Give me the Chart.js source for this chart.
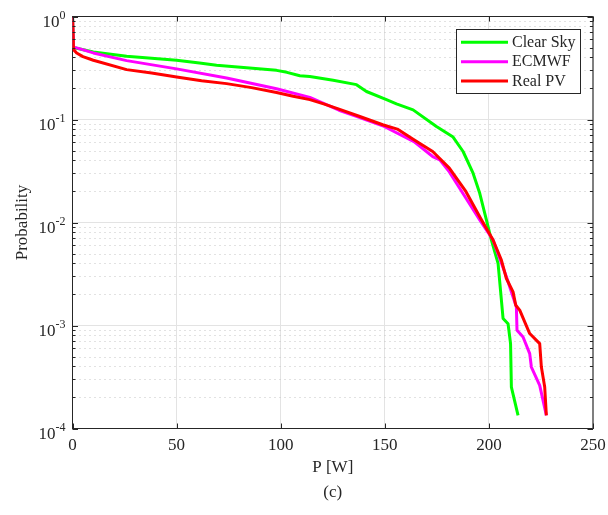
<!DOCTYPE html>
<html><head><meta charset="utf-8">
<script src="https://cdn.jsdelivr.net/npm/chart.js@4/dist/chart.umd.min.js"></script>
<style>html,body{margin:0;padding:0;background:#fff;}canvas{display:block;}</style>
</head><body>
<canvas id="c" width="608" height="515"></canvas>
<script>
const seriesNames = ['Clear Sky', 'ECMWF', 'Real PV'];
const seriesColors = ['#00ff00', '#ff00ff', '#ff0000'];
const xTicks = [0, 50, 100, 150, 200, 250];
const yDecades = [1e-4, 1e-3, 1e-2, 1e-1, 1];
const yTickBase = '10';
const yTickExp = ['-4', '-3', '-2', '-1', '0'];
const xTitle = 'P [W]';
const yTitle = 'Probability';
const caption = '(c)';

const clearSkyP = [0, 0.5, 2, 10, 26, 50, 61, 69.2, 98, 103, 109.2, 114, 125.2, 136.4, 141.2, 150.8, 155.6, 163.6, 174.8, 182.8, 187.6, 192.4, 195.6, 198.8, 201.2, 204.4, 206.8, 209.2, 210.4, 210.8, 214];
const clearSkyProb = [1, 0.50, 0.491, 0.453, 0.411, 0.376, 0.354, 0.336, 0.300, 0.287, 0.266, 0.262, 0.240, 0.218, 0.187, 0.156, 0.142, 0.124, 0.0856, 0.0675, 0.0489, 0.0301, 0.0192, 0.0106, 0.00676, 0.00401, 0.00117, 0.00104, 0.000667, 0.000252, 0.000134];

const ecmwfP = [0, 0.5, 2, 10, 26, 50, 74, 98, 114, 128, 136, 149, 164, 173, 176.4, 181, 189, 195.6, 202, 208.4, 213.2, 213.5, 216.4, 219.6, 220.4, 224.4, 227.6];
const ecmwfProb = [1, 0.50, 0.496, 0.443, 0.373, 0.310, 0.253, 0.199, 0.164, 0.123, 0.108, 0.0869, 0.061, 0.0437, 0.0406, 0.031, 0.0172, 0.0106, 0.00676, 0.00297, 0.00151, 0.000899, 0.000774, 0.000533, 0.000395, 0.000262, 0.000134];

const realPvP = [0, 0.5, 2, 5, 10, 26, 38, 50, 62, 74, 86, 98, 106, 114, 121, 128, 138, 149, 156, 164, 173, 181, 189, 196, 202, 206, 208.4, 211.6, 212.9, 214.8, 219.6, 224.4, 225.2, 226.8, 227.6];
const realPvProb = [1, 0.477, 0.443, 0.408, 0.376, 0.305, 0.283, 0.259, 0.238, 0.223, 0.204, 0.183, 0.168, 0.156, 0.141, 0.126, 0.107, 0.0889, 0.0807, 0.0635, 0.0489, 0.0337, 0.0199, 0.011, 0.00676, 0.00432, 0.00286, 0.00212, 0.00157, 0.00141, 0.000835, 0.000667, 0.000395, 0.000253, 0.000134];

const FONT = '"Liberation Serif", "Times New Roman", Times, serif';
const TXT = '#262626';

function pts(xs, ys) { return xs.map((x, i) => ({ x: x, y: ys[i] })); }
function isDecade(v) { const l = Math.log10(v); return Math.abs(l - Math.round(l)) < 1e-9; }

const decor = {
  id: 'decor',
  beforeDatasetsDraw(chart) {
    const { ctx, chartArea: a, scales: { y } } = chart;
    ctx.save();
    ctx.strokeStyle = '#c4c4c4';
    ctx.lineWidth = 1;
    ctx.setLineDash([1, 4]);
    for (let e = -4; e < 0; e++) {
      for (let k = 2; k <= 9; k++) {
        const py = Math.round(y.getPixelForValue(k * Math.pow(10, e))) + 0.5;
        ctx.beginPath(); ctx.moveTo(a.left + 2, py); ctx.lineTo(a.right, py); ctx.stroke();
      }
    }
    ctx.restore();
  },
  afterDraw(chart) {
    const { ctx, chartArea: a, scales: { x, y } } = chart;
    ctx.save();
    ctx.strokeStyle = TXT; ctx.lineWidth = 1;
    ctx.beginPath(); ctx.moveTo(a.left, a.top); ctx.lineTo(a.right, a.top); ctx.stroke();
    ctx.strokeStyle = '#555'; ctx.lineWidth = 1.5;
    ctx.beginPath(); ctx.moveTo(a.right, a.top); ctx.lineTo(a.right, a.bottom); ctx.stroke();
    ctx.strokeStyle = TXT; ctx.lineWidth = 1;
    xTicks.forEach(v => {
      const px = Math.round(x.getPixelForValue(v)) + 0.5;
      ctx.beginPath(); ctx.moveTo(px, a.bottom); ctx.lineTo(px, a.bottom - 5); ctx.stroke();
      ctx.beginPath(); ctx.moveTo(px, a.top); ctx.lineTo(px, a.top + 5); ctx.stroke();
    });
    for (let e = -4; e <= 0; e++) {
      for (let k = 1; k <= 9; k++) {
        if (e === 0 && k > 1) break;
        const py = Math.round(y.getPixelForValue(k * Math.pow(10, e))) + 0.5;
        const len = k === 1 ? 5.5 : 3;
        ctx.beginPath(); ctx.moveTo(a.left, py); ctx.lineTo(a.left + len, py); ctx.stroke();
        ctx.beginPath(); ctx.moveTo(a.right, py); ctx.lineTo(a.right - len, py); ctx.stroke();
      }
    }
    ctx.fillStyle = TXT; ctx.textAlign = 'left'; ctx.textBaseline = 'alphabetic';
    const rightX = 65.5;
    yDecades.forEach((v, i) => {
      const ty = y.getPixelForValue(v);
      ctx.font = '12px ' + FONT;
      const ew = ctx.measureText(yTickExp[i]).width;
      ctx.fillText(yTickExp[i], rightX - ew, ty + 2);
      ctx.font = '17px ' + FONT;
      const bw = ctx.measureText(yTickBase).width;
      ctx.fillText(yTickBase, rightX - ew - bw, ty + 10.5);
    });
    ctx.font = '17px ' + FONT;
    ctx.textAlign = 'center'; ctx.textBaseline = 'middle';
    const cx = (a.left + a.right) / 2;
    ctx.fillText(xTitle, cx, 468);
    ctx.fillText(caption, cx, 493);
    ctx.save();
    ctx.translate(26.5, (a.top + a.bottom) / 2);
    ctx.rotate(-Math.PI / 2);
    ctx.textBaseline = 'alphabetic';
    ctx.fillText(yTitle, 0, 0);
    ctx.restore();
    const bx = 456.5, by = 29.5, bw2 = 124, bh = 64;
    ctx.fillStyle = '#fff';
    ctx.fillRect(bx, by, bw2, bh);
    ctx.strokeStyle = TXT; ctx.lineWidth = 1;
    ctx.strokeRect(bx, by, bw2, bh);
    const rows = [42.3, 61.7, 81];
    ctx.font = '16px ' + FONT; ctx.textAlign = 'left'; ctx.textBaseline = 'middle';
    seriesNames.forEach((n, i) => {
      ctx.strokeStyle = seriesColors[i]; ctx.lineWidth = 3;
      ctx.beginPath(); ctx.moveTo(461, rows[i]); ctx.lineTo(508, rows[i]); ctx.stroke();
      ctx.fillStyle = TXT;
      ctx.fillText(n, 512, rows[i] + 0.5);
    });
    ctx.restore();
  }
};

const seriesP = [clearSkyP, ecmwfP, realPvP];
const seriesProb = [clearSkyProb, ecmwfProb, realPvProb];

new Chart(document.getElementById('c'), {
  type: 'line',
  data: {
    datasets: seriesNames.map((n, i) => ({
      label: n,
      data: pts(seriesP[i], seriesProb[i]),
      borderColor: seriesColors[i],
      backgroundColor: seriesColors[i],
      borderWidth: 3,
      pointRadius: 0,
      fill: false,
      tension: 0,
      borderJoinStyle: 'round',
      order: 3 - i
    }))
  },
  options: {
    responsive: false,
    animation: false,
    devicePixelRatio: 1,
    layout: { padding: { top: 16.5, right: 15, left: 0, bottom: 0 } },
    plugins: { legend: { display: false }, tooltip: { enabled: false }, title: { display: false } },
    scales: {
      x: {
        type: 'linear', min: 0, max: 250,
        afterBuildTicks(s) { s.ticks = xTicks.map(v => ({ value: v })); },
        ticks: { font: { family: FONT, size: 17 }, color: TXT, padding: 7, maxRotation: 0, autoSkip: false },
        grid: {
          color: c => (c.tick && (c.tick.value === 0 || c.tick.value === 250)) ? 'rgba(0,0,0,0)' : '#e3e3e3',
          drawTicks: false, lineWidth: 1
        },
        border: { color: TXT, width: 1 },
        afterFit(s) { s.height = 515 - 428.5; s.paddingLeft = 0; s.paddingRight = 0; }
      },
      y: {
        type: 'logarithmic', min: 1e-4, max: 1,
        ticks: { display: false, autoSkip: false },
        grid: {
          color: c => (c.tick && isDecade(c.tick.value) && c.tick.value < 1 && c.tick.value > 1e-4) ? '#e3e3e3' : 'rgba(0,0,0,0)',
          drawTicks: false, lineWidth: 1
        },
        border: { color: TXT, width: 1 },
        afterFit(s) { s.width = 72.5; s.paddingTop = 0; s.paddingBottom = 0; }
      }
    }
  },
  plugins: [decor]
});
</script>
</body></html>
